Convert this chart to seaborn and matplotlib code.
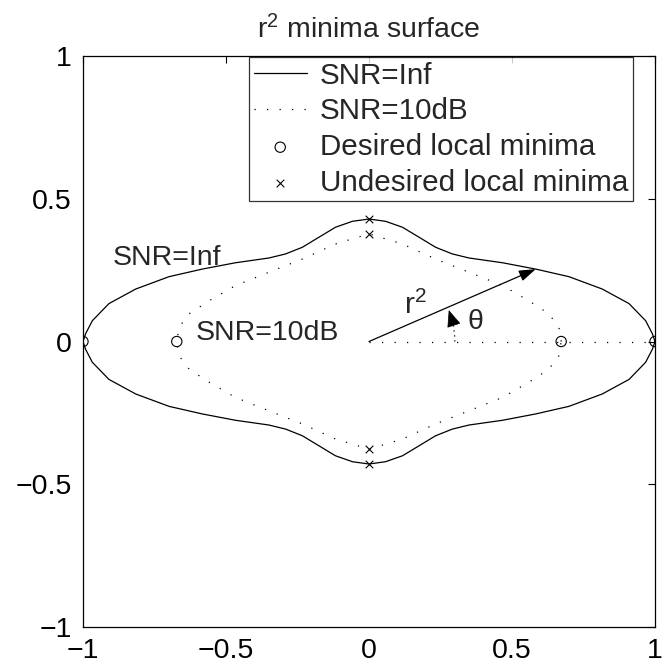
import numpy as np
import matplotlib
matplotlib.use("Agg")
import matplotlib.pyplot as plt
import seaborn as sns

# r^2 of the minima surface vs. angle theta (first quadrant; the surface is
# symmetric about both axes)
theta_inf = [0.0, 1.6, 4.3, 8.3, 12.7, 18.0, 23.5, 30.6, 39.9, 46.5, 54.8, 64.4, 73.7, 82.2, 90.0]
r2_inf = [1.000, 0.991, 0.970, 0.919, 0.836, 0.735, 0.636, 0.542, 0.456, 0.423, 0.404, 0.405, 0.417, 0.425, 0.429]

theta_10db = [0.0, 4.3, 8.8, 14.3, 22.8, 34.7, 51.1, 71.1, 90.0]
r2_10db = [0.672, 0.666, 0.636, 0.577, 0.506, 0.426, 0.371, 0.361, 0.377]

# local minima
desired_x = [1.0, -1.0, 0.672, -0.672]
desired_y = [0.0, 0.0, 0.0, 0.0]
undesired_x = [0.0, 0.0, 0.0, 0.0]
undesired_y = [0.429, -0.429, 0.377, -0.377]

ticks = [-1, -0.5, 0, 0.5, 1]
tick_labels = ["\u22121", "\u22120.5", "0", "0.5", "1"]

arrow_theta = 23.5  # direction of the r^2 annotation arrow (degrees)
FS = 20.5
LEGEND_FS = 21.3


def closed_curve(theta_deg, r):
    t = np.asarray(theta_deg, float)
    r = np.asarray(r, float)
    ang = np.concatenate([t, 180 - t[::-1], 180 + t, 360 - t[::-1]])
    rr = np.concatenate([r, r[::-1], r, r[::-1]])
    a = np.deg2rad(ang)
    return rr * np.cos(a), rr * np.sin(a)


sns.set_theme(style="white")
plt.rcParams["font.family"] = ["Liberation Sans", "DejaVu Sans"]
plt.rcParams["mathtext.fontset"] = "custom"
plt.rcParams["mathtext.rm"] = "Liberation Sans"
plt.rcParams["mathtext.it"] = "Liberation Sans"

fig = plt.figure(figsize=(6.67, 6.65), dpi=100)
ax = fig.add_axes([0.1244, 0.0571, 0.8576, 0.8587])

xi, yi = closed_curve(theta_inf, r2_inf)
x10, y10 = closed_curve(theta_10db, r2_10db)

sns.lineplot(x=xi, y=yi, sort=False, estimator=None, color="black", lw=0.9,
             ax=ax, label="SNR=Inf")
sns.lineplot(x=x10, y=y10, sort=False, estimator=None, color="black", lw=0.9,
             linestyle=(0, (1, 9)), ax=ax, label="SNR=10dB")
sns.scatterplot(x=desired_x, y=desired_y, marker="o", s=55, facecolors="none",
                edgecolor="black", linewidth=0.8, ax=ax, label="Desired local minima",
                zorder=5)
sns.scatterplot(x=undesired_x, y=undesired_y, marker="x", s=30, color="black",
                linewidth=0.8, ax=ax, label="Undesired local minima", zorder=5)

# theta reference line
ax.plot([0, 1], [0, 0], color="black", lw=0.9, linestyle=(0, (1, 9)))

# r^2 arrow from origin to the SNR=Inf curve
r_tip = np.interp(arrow_theta, theta_inf, r2_inf)
a = np.deg2rad(arrow_theta)
ax.annotate("", xy=(r_tip * np.cos(a), r_tip * np.sin(a)), xytext=(0, 0),
            arrowprops=dict(arrowstyle="-|>,head_length=0.6,head_width=0.2",
                            color="black", lw=0.9,
                            mutation_scale=17, shrinkA=0, shrinkB=0))

# theta arc
arc_r = 0.30
arc_t = np.deg2rad(np.linspace(0, 16, 20))
ax.plot(arc_r * np.cos(arc_t), arc_r * np.sin(arc_t), color="black", lw=0.9,
        linestyle=(0, (1, 3)))
t0, t1 = np.deg2rad(15), np.deg2rad(21.5)
ax.annotate("", xy=(arc_r * np.cos(t1), arc_r * np.sin(t1)),
            xytext=(arc_r * np.cos(t0), arc_r * np.sin(t0)),
            arrowprops=dict(arrowstyle="-|>,head_length=0.6,head_width=0.25",
                            color="black", lw=0.5,
                            mutation_scale=18, shrinkA=0, shrinkB=0))

ax.text(-0.896, 0.292, "SNR=Inf", fontsize=FS, va="center", ha="left")
ax.text(-0.605, 0.03, "SNR=10dB", fontsize=FS, va="center", ha="left")
ax.text(0.122, 0.098, "r$^2$", fontsize=FS + 1, va="baseline", ha="left")
ax.text(0.372, 0.068, "\u03b8", fontsize=FS, va="center", ha="center")

ax.set_xlim(-1, 1)
ax.set_ylim(-1, 1)
ax.set_xticks(ticks)
ax.set_yticks(ticks)
ax.set_xticklabels(tick_labels)
ax.set_yticklabels(tick_labels)
ax.tick_params(direction="in", length=5, width=0.8, top=True, right=True,
               labelsize=FS, colors="black", pad=8)
for s in ax.spines.values():
    s.set_color("black")
    s.set_linewidth(0.9)

ax.set_title("r$^2$ minima surface", fontsize=FS, pad=13)

leg = ax.legend(loc="upper right", bbox_to_anchor=(0.9615, 0.998), borderaxespad=0,
                fontsize=LEGEND_FS, frameon=True, fancybox=False, handlelength=1.8,
                handletextpad=0.45, labelspacing=0.26, borderpad=0.15)
leg.get_frame().set_edgecolor("black")
leg.get_frame().set_linewidth(0.9)

fig.savefig("out.png", dpi=100)
